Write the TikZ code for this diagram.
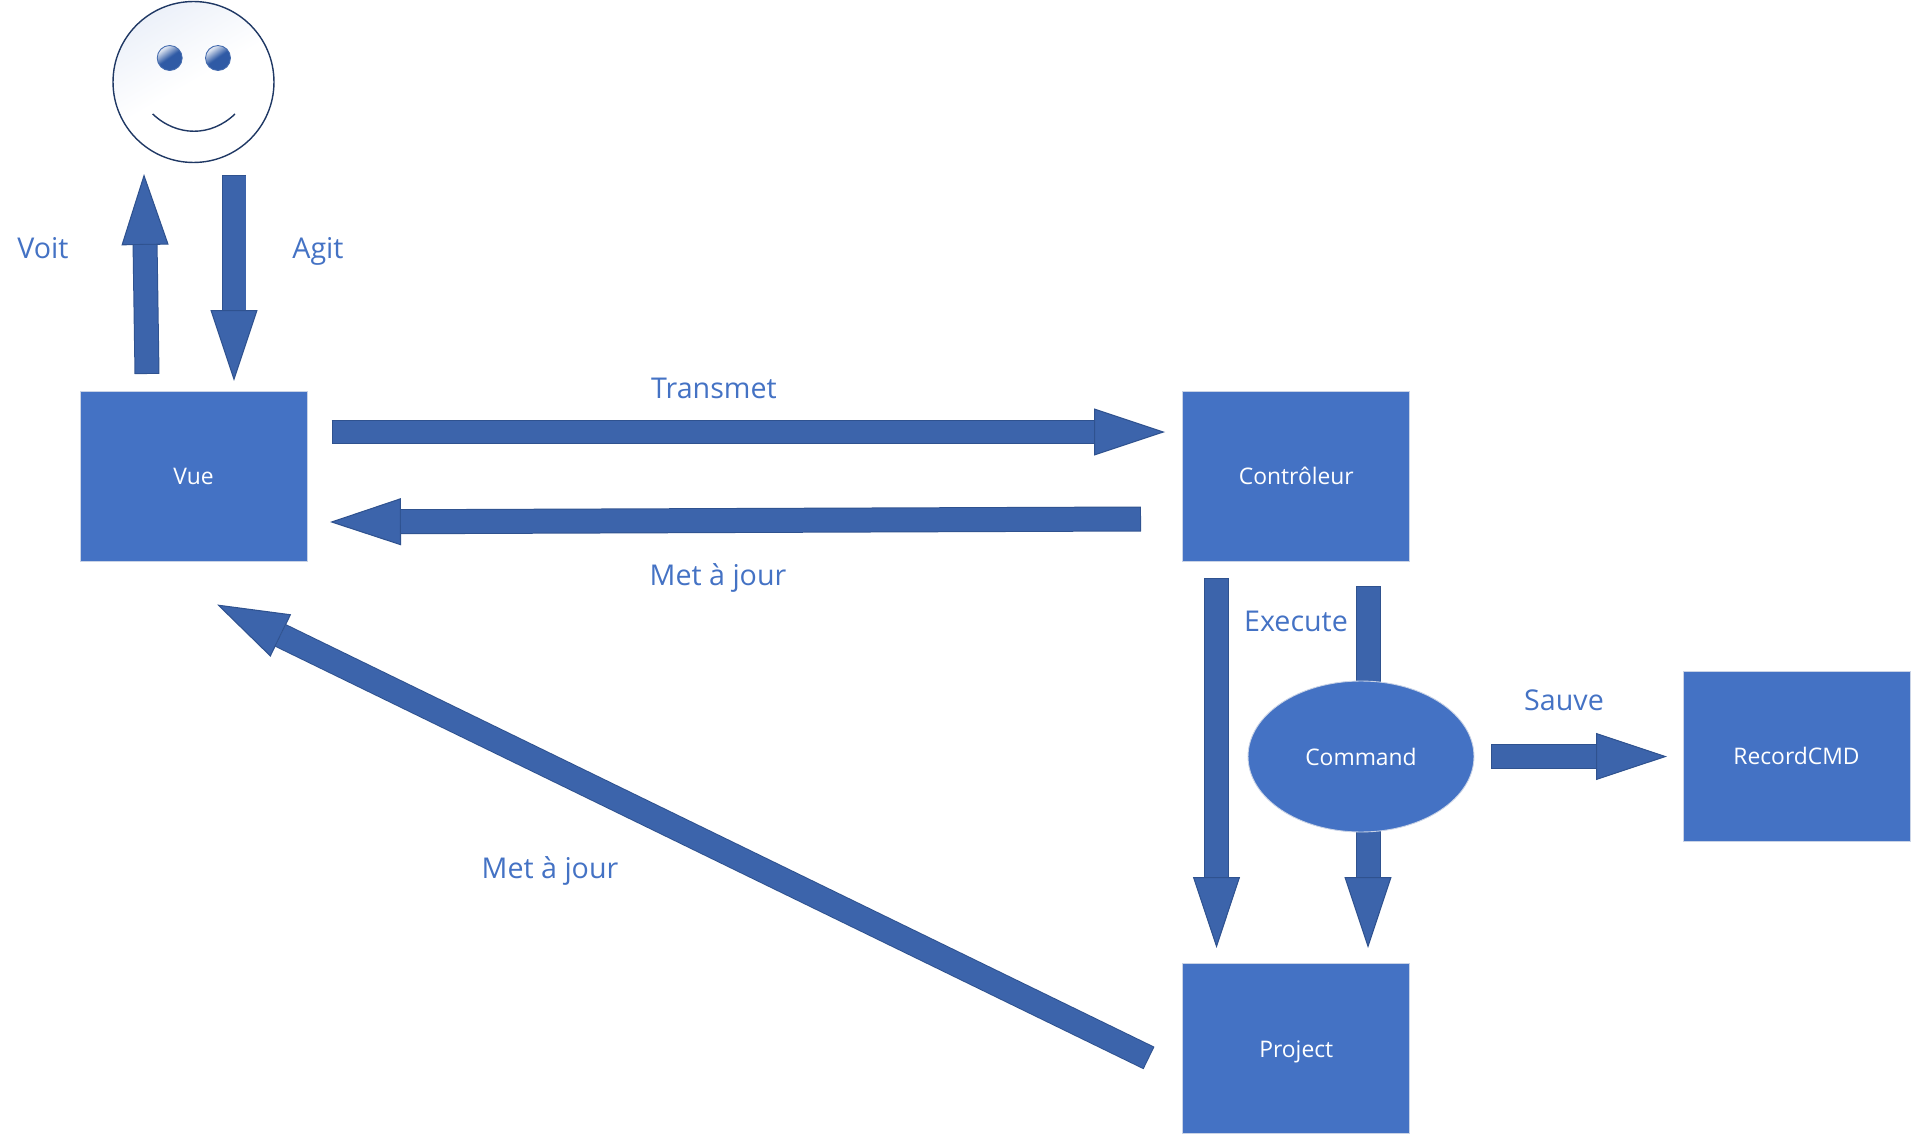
\documentclass[tikz,border=0pt]{standalone}
\usepackage{fontspec}
\setmainfont{Open Sans}
\usetikzlibrary{arrows.meta,calc,positioning,shapes.geometric}
\definecolor{mvcblue}{HTML}{4472C4}
\definecolor{mvcarrow}{HTML}{3C64AB}
\definecolor{mvcedge}{HTML}{2F528F}
\definecolor{mvcborder}{HTML}{C9D3E6}
\definecolor{mvcface}{HTML}{1F3864}
\definecolor{mvceye}{HTML}{2F5AA5}
\pgfdeclareverticalshading{eyeshade}{100bp}{color(0bp)=(mvceye); color(51bp)=(mvceye); color(72bp)=(mvceye!18!white); color(100bp)=(mvceye!18!white)}
\tikzset{
  mvcbox/.style={
    draw=mvcborder,
    fill=mvcblue,
    text=white,
    line width=0.5pt,
    outer sep=0pt,
    minimum width=4.54cm,
    minimum height=3.4cm,
    text height=11pt,
    text depth=1.2pt,
    font=\fontsize{13}{15}\selectfont
  },
  mvcoval/.style={
    mvcbox,
    ellipse,
    minimum width=4.52cm,
    minimum height=3.02cm
  },
  bigarrow/.style={
    -{Triangle[length=1.42cm,width=0.94cm,fill=mvcarrow,color=mvcedge,line width=0.6pt]},
    line width=0.5cm,
    draw=mvcedge,
    postaction={draw=mvcarrow, -, line width=0.46cm, shorten >=1.42cm, shorten <=0.02cm}
  },
  flowlabel/.style={text=mvcblue, inner sep=0pt, font=\fontsize{16.3}{18}\selectfont},
  eyeball/.style={
    circle,
    draw=mvceye!90!white,
    line width=0.5pt,
    minimum size=0.5cm,
    inner sep=0pt,
    shading=eyeshade,
    shading angle=35
  }
}
\begin{document}
\begin{tikzpicture}[x=0.02cm,y=-0.02cm]
  \useasboundingbox (0,0) rectangle (1911,1135);
  \node[mvcbox] (vue) at (193.5,476) {Vue};
  \node[mvcbox, right=17.52cm of vue] (ctrl) {Contrôleur};
  \node[mvcbox, below=8.06cm of ctrl] (project) {Project};
  \node[mvcbox] (record) at (1796.5,756) {RecordCMD};
  % free ends of the arrows
  \coordinate (voitA) at (147,374);
  \coordinate (voitB) at (144,174);
  \coordinate (agitA) at (234,175);
  \coordinate (agitB) at (234,381);
  \coordinate (transA) at (331.5,432);
  \coordinate (transB) at (1165,432);
  \coordinate (majA) at (1141,519);
  \coordinate (majB) at (330,522);
  \coordinate (projA) at (1149,1058);
  \coordinate (projB) at (217,604.5);
  \coordinate (execA) at (1216.5,578);
  \coordinate (execB) at (1216.5,948);
  \coordinate (cmdA) at (1368,586);
  \coordinate (cmdB) at (1368,948);
  \coordinate (saveA) at (1491,756.5);
  \coordinate (saveB) at (1667,756.5);
  \draw[bigarrow] (voitA) -- (voitB);
  \draw[bigarrow] (agitA) -- (agitB);
  \draw[bigarrow] (transA) -- (transB);
  \draw[bigarrow] (majA) -- (majB);
  \draw[bigarrow] (projA) -- (projB);
  \draw[bigarrow] (execA) -- (execB);
  \draw[bigarrow] (cmdA) -- (cmdB);
  \draw[bigarrow] (saveA) -- (saveB);
  \node[mvcoval] (command) at (1361,756.5) {Command};
  % the user
  \node[circle, draw=mvcface, line width=0.8pt, minimum size=3.22cm, inner sep=0pt,
    shading=axis, top color=mvcblue!10!white, bottom color=white, middle color=white, shading angle=30] (face) at (193.5,82) {};
  \node[eyeball] (eyeL) at (169.7,58) {};
  \node[eyeball] (eyeR) at (218,58) {};
  \coordinate (smileA) at (152.7,114);
  \coordinate (smileB) at (235,114);
  \draw[mvcface, line width=0.8pt] (smileA) .. controls (177,137) and (211,137) .. (smileB);
  % labels
  \node[flowlabel] (voit) at (43,248) {Voit};
  \node[flowlabel] (agit) at (318,251) {Agit};
  \node[flowlabel] (transmet) at (714,388) {Transmet};
  \node[flowlabel] (majtop) at (718,578) {Met à jour};
  \node[flowlabel] (majlow) at (550,871) {Met à jour};
  \node[flowlabel] (execute) at (1296,621) {Execute};
  \node[flowlabel] (sauve) at (1564,700) {Sauve};
\end{tikzpicture}
\end{document}
